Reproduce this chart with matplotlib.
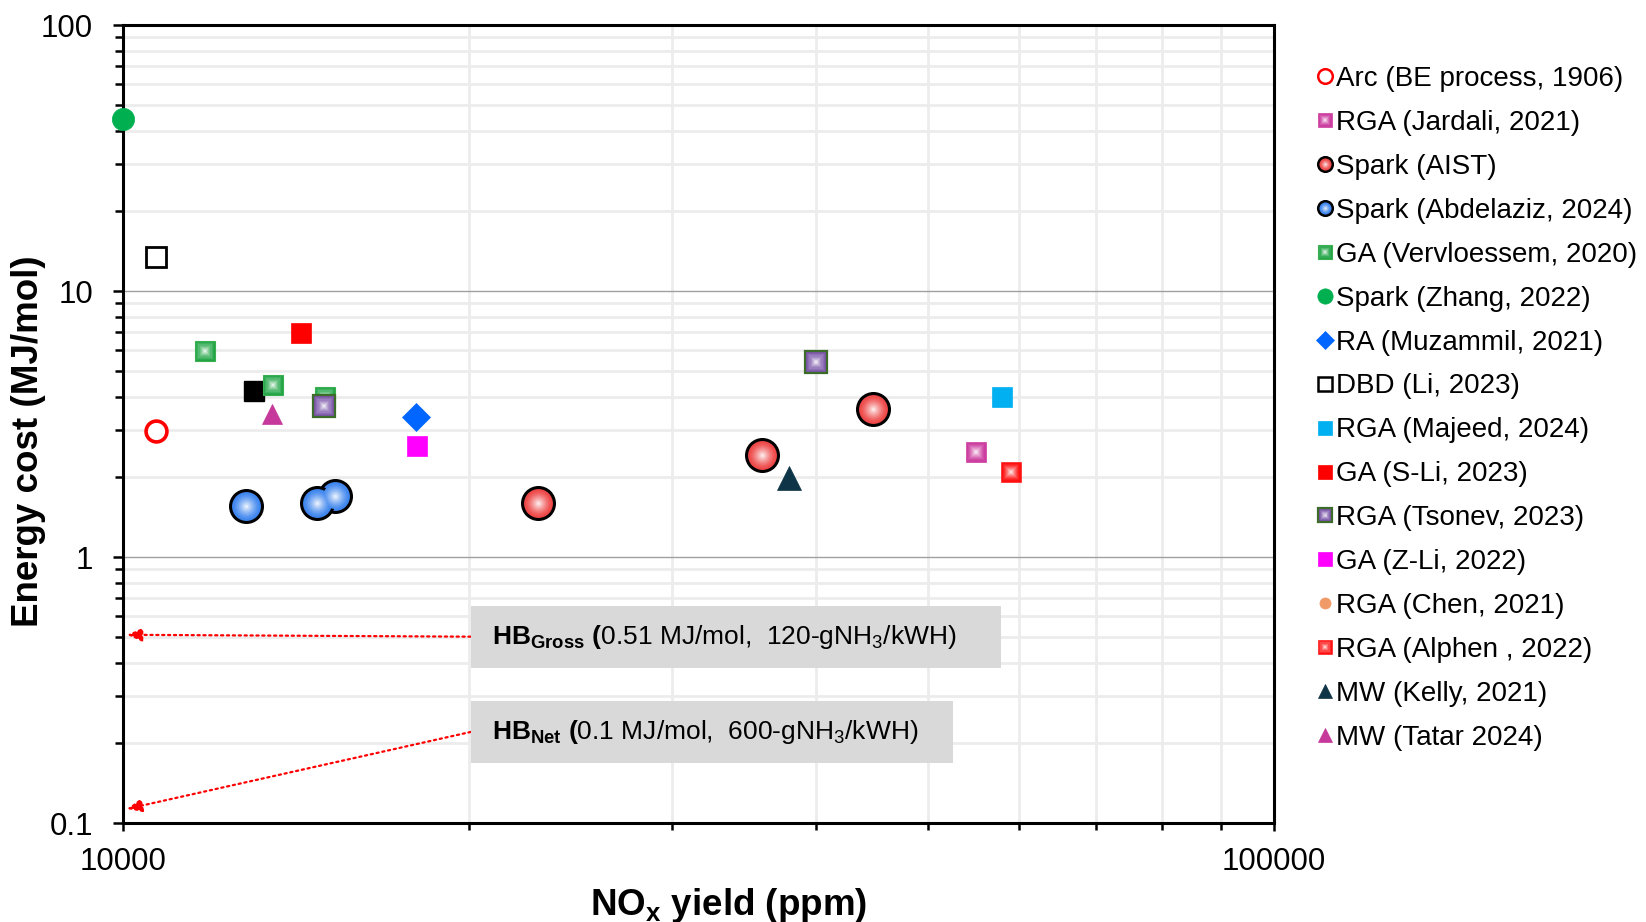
"""
Energy cost vs NOx yield scatter (log-log) with HB reference markers
"""
import numpy as np
import matplotlib
matplotlib.use("Agg")
import matplotlib.pyplot as plt
from matplotlib.colors import to_rgb
from matplotlib.lines import Line2D
from matplotlib.patches import Rectangle
from matplotlib.legend_handler import HandlerTuple
from matplotlib.ticker import LogLocator, NullFormatter, FixedLocator, FixedFormatter

plt.rcParams['font.family'] = ['Liberation Sans', 'DejaVu Sans']
plt.rcParams['mathtext.fontset'] = 'custom'
plt.rcParams['mathtext.rm'] = 'Liberation Sans'
plt.rcParams['mathtext.it'] = 'Liberation Sans:italic'
plt.rcParams['mathtext.bf'] = 'Liberation Sans:bold'

# ---- data (NOx yield in ppm, energy cost in MJ/mol) ----
labels = ['Arc (BE process, 1906)', 'RGA (Jardali, 2021)', 'Spark (AIST)',
          'Spark (Abdelaziz, 2024)', 'GA (Vervloessem, 2020)', 'Spark (Zhang, 2022)',
          'RA (Muzammil, 2021)', 'DBD (Li, 2023)', 'RGA (Majeed, 2024)',
          'GA (S-Li, 2023)', 'RGA (Tsonev, 2023)', 'GA (Z-Li, 2022)',
          'RGA (Chen, 2021)', 'RGA (Alphen , 2022)', 'MW (Kelly, 2021)',
          'MW (Tatar 2024)']

arc_x = [10680];                 arc_y = [2.98]
jardali_x = [55060];             jardali_y = [2.48]
aist_x = [22950, 35930, 44870];  aist_y = [1.60, 2.41, 3.61]
abdelaziz_x = [12780, 15280, 14750]; abdelaziz_y = [1.55, 1.70, 1.60]
vervloessem_x = [11790, 13490, 14980]; vervloessem_y = [5.93, 4.45, 4.00]
zhang_x = [10000];               zhang_y = [44.2]
muzammil_x = [17970];            muzammil_y = [3.37]
dbd_li_x = [10680];              dbd_li_y = [13.4]
majeed_x = [58070];              majeed_y = [4.01]
sli_x = [14290];                 sli_y = [6.93]
tsonev_x = [14950, 40000];       tsonev_y = [3.71, 5.42]
zli_x = [17990];                 zli_y = [2.62]
chen_x = [];                     chen_y = []
alphen_x = [59040];              alphen_y = [2.09]
kelly_x = [37930];               kelly_y = [1.98]
tatar_x = [13480];               tatar_y = [3.45]
# series without a legend entry (black square)
extra_x = [13000];               extra_y = [4.20]

hb_values = [0.51, 0.113]
hb_texts = [r"$\mathbf{HB_{Gross}}$ $\mathbf{(}$0.51 MJ/mol,  120-gNH$_3$/kWH)",
            r"$\mathbf{HB_{Net}}$ $\mathbf{(}$0.1 MJ/mol,  600-gNH$_3$/kWH)"]

# style per series: marker, size, face, edge, edge width, gradient
styles = [
    ('o', 15, 'white',   '#ff0000', 2.6, False),
    ('s', 14, '#cc3fa0', '#cc3fa0', 0.5, True),
    ('o', 23, '#ee4848', '#000000', 2.2, True),
    ('o', 23, '#3f86ee', '#000000', 2.2, True),
    ('s', 15, '#1fa444', '#3cb050', 0.8, True),
    ('o', 16, '#00b050', '#00b050', 0.5, False),
    ('D', 14, '#0066ff', '#0066ff', 0.5, False),
    ('s', 15, 'white',   '#000000', 2.0, False),
    ('s', 14, '#00b0f0', '#00b0f0', 0.5, False),
    ('s', 14, '#ff0000', '#ff0000', 0.5, False),
    ('s', 16, '#7a55a8', '#3d6b2a', 1.6, True),
    ('s', 15, '#ff00ff', '#ff00ff', 0.5, False),
    ('o', 14, '#f09a68', '#f09a68', 0.5, False),
    ('s', 14, '#ff1010', '#ff2020', 0.5, True),
    ('^', 17, '#0e3447', '#0e3447', 0.5, False),
    ('^', 15, '#c6399b', '#c6399b', 0.5, False),
]
legend_sizes = [10.5, 10, 10.5, 10.5, 10.5, 11, 9, 10.5, 10, 10.5, 10.5, 10.5, 8, 10.5, 10.5, 10.5]
series_x = [arc_x, jardali_x, aist_x, abdelaziz_x, vervloessem_x, zhang_x,
            muzammil_x, dbd_li_x, majeed_x, sli_x, tsonev_x, zli_x, chen_x,
            alphen_x, kelly_x, tatar_x]
series_y = [arc_y, jardali_y, aist_y, abdelaziz_y, vervloessem_y, zhang_y,
            muzammil_y, dbd_li_y, majeed_y, sli_y, tsonev_y, zli_y, chen_y,
            alphen_y, kelly_y, tatar_y]


def blend(c, t):
    r = np.array(to_rgb(c))
    return tuple(r + (1 - r) * t)


def marker_layers(marker, size, face, edge, ew, grad, n=9):
    """list of Line2D kwargs, outer to inner, to fake a radial gradient"""
    layers = [dict(marker=marker, ms=size, mfc=face, mec=edge, mew=ew)]
    if grad:
        inner = size - ew * 1.2
        for k in range(1, n):
            frac = 1 - k / n
            layers.append(dict(marker=marker, ms=inner * frac, mfc=blend(face, (k / n) ** 1.3),
                               mec='none', mew=0))
    return layers


fig = plt.figure(figsize=(16.46, 9.22), dpi=100)
ax = fig.add_axes([123 / 1646, 1 - 823 / 922, (1274 - 123) / 1646, (823 - 25) / 922])
ax.set_xscale('log')
ax.set_yscale('log')
ax.set_xlim(10000, 100000)
ax.set_ylim(0.1, 100)

# grid
ax.set_axisbelow(True)
ax.yaxis.grid(True, which='minor', color='#ececec', lw=2.0)
ax.yaxis.grid(True, which='major', color='#a0a0a0', lw=1.0)
ax.xaxis.grid(True, which='minor', color='#ececec', lw=2.0)
ax.xaxis.grid(False, which='major')

# black unlabeled series first
ax.plot(extra_x, extra_y, ls='none', marker='s', ms=15, mfc='black', mec='black', zorder=3)

handles = []
for i, (xs, ys, st) in enumerate(zip(series_x, series_y, styles)):
    layers = marker_layers(*st)
    for k, kw in enumerate(layers):
        ax.plot(xs, ys, ls='none', clip_on=False, zorder=3 + i * 0.1 + k * 0.001, **kw)
    ew = min(st[4], 1.8)
    leg_layers = marker_layers(st[0], legend_sizes[i], st[2], st[3], ew, st[5], n=6)
    handles.append(tuple(Line2D([], [], ls='none', **kw) for kw in leg_layers))

# HB reference boxes + dotted arrows (box extents in axes fraction)
box_x0 = 0.302
box_x1 = [0.763, 0.721]
box_y0 = [0.1946, 0.0752]
box_y1 = [0.2724, 0.1529]
for val, txt, x1, y0, y1 in zip(hb_values, hb_texts, box_x1, box_y0, box_y1):
    ax.add_patch(Rectangle((box_x0, y0), x1 - box_x0, y1 - y0, transform=ax.transAxes,
                           fc='#d9d9d9', ec='none', zorder=5))
    ax.text(0.3205, (y0 + y1) / 2, txt, transform=ax.transAxes, fontsize=19,
            va='center', ha='left', zorder=6)
    ax.annotate('', xy=(10080, val), xycoords='data', xytext=(box_x0, (y0 + y1) / 2),
                textcoords='axes fraction',
                arrowprops=dict(arrowstyle='-|>,head_length=0.9,head_width=0.4',
                                color='#ff0000', lw=1.6, ls=':', shrinkA=0, shrinkB=0),
                zorder=4)

# spines and ticks
for s in ax.spines.values():
    s.set_linewidth(2.2)
    s.set_color('black')
ax.yaxis.set_major_locator(FixedLocator([0.1, 1, 10, 100]))
ax.yaxis.set_major_formatter(FixedFormatter(['0.1', '1', '10', '100']))
ax.yaxis.set_minor_locator(LogLocator(base=10, subs=np.arange(2, 10)))
ax.yaxis.set_minor_formatter(NullFormatter())
ax.xaxis.set_major_locator(FixedLocator([10000, 100000]))
ax.xaxis.set_major_formatter(FixedFormatter(['10000', '100000']))
ax.xaxis.set_minor_locator(LogLocator(base=10, subs=np.arange(2, 10)))
ax.xaxis.set_minor_formatter(NullFormatter())
ax.tick_params(axis='y', which='major', length=7.5, width=1.8, pad=14, labelsize=22.5)
ax.tick_params(axis='y', which='minor', length=6, width=1.8)
ax.tick_params(axis='x', which='major', length=6, width=1.8, pad=11, labelsize=22.5)
ax.tick_params(axis='x', which='minor', length=5, width=1.8)

ax.set_xlabel(r"NO$_{\mathbf{x}}$ yield (ppm)", fontsize=26.5, fontweight='bold')
ax.xaxis.set_label_coords(0.526, -0.079)
ax.set_ylabel("Energy cost (MJ/mol)", fontsize=26.5, fontweight='bold')
ax.yaxis.set_label_coords(-0.067, 0.478)

fig.legend(handles, labels, handler_map={tuple: HandlerTuple(ndivide=1, pad=0)},
           loc='upper left', bbox_to_anchor=(1317 / 1646, 1 - 66 / 922),
           frameon=False, fontsize=20, handlelength=0.6, handletextpad=0.1,
           labelspacing=0.645, borderpad=0, borderaxespad=0)

fig.savefig('out.png', dpi=100)
